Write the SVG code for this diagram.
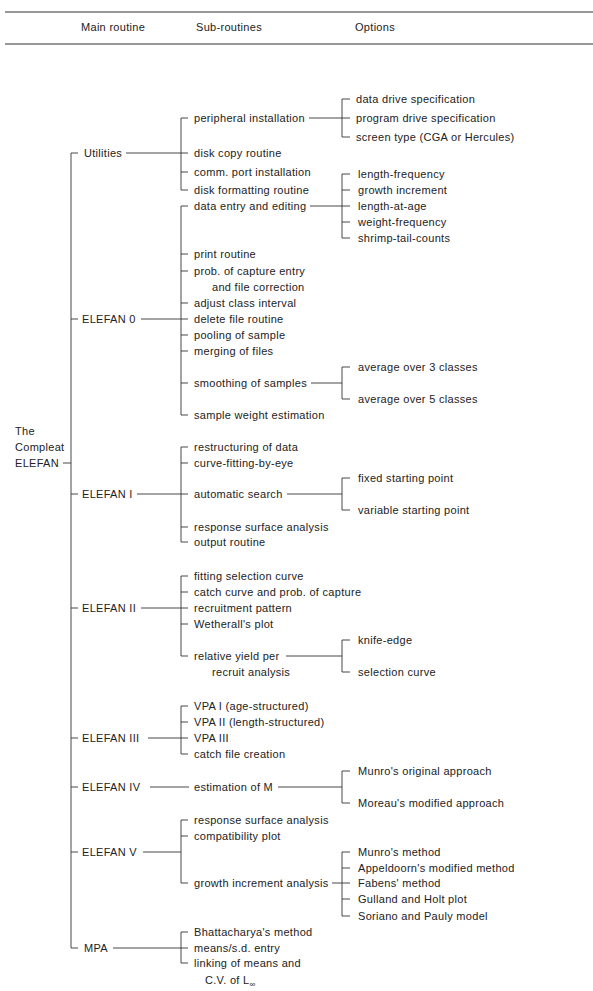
<svg xmlns="http://www.w3.org/2000/svg" width="593" height="991" viewBox="0 0 593 991">
<style>
text{font-family:"Liberation Sans",Arial,sans-serif;font-size:11px;letter-spacing:0.3px;fill:#222}
.c{fill:none;stroke:#333;stroke-width:0.9}
.rule{stroke:#333;fill:none}
</style>
<rect width="593" height="991" fill="#fff"/>
<g id="header">
<line class="rule" x1="5" y1="12" x2="593" y2="12" stroke-width="1.2"/>
<line class="rule" x1="5" y1="44" x2="593" y2="44" stroke-width="1"/>
<text x="81" y="31">Main routine</text>
<text x="196" y="31">Sub-routines</text>
<text x="355" y="31">Options</text>
</g>
<g id="connectors">
<path class="c" d="M78,153 H71 V948 H78 M71,319 H78 M71,494 H78 M71,608 H78 M71,738 H78 M71,787 H78 M71,852 H78 M63,463 H71"/>
<path class="c" d="M126,153 H181 M141,319 H181 M137,494 H181 M141,608 H181 M148,738 H181 M150,787 H189 M143,852 H181 M113,948 H181"/>
<path class="c" d="M188,118 H181 V190 H188 M181,153 H188 M181,172 H188"/>
<path class="c" d="M309,118 H342 M350,99 H342 V137 H350 M342,118 H350"/>
<path class="c" d="M188,206 H181 V415 H188 M181,254 H188 M181,271 H188 M181,303 H188 M181,319 H188 M181,335 H188 M181,351 H188 M181,383 H188"/>
<path class="c" d="M310,206 H342 M350,174 H342 V238 H350 M342,190 H350 M342,206 H350 M342,222 H350"/>
<path class="c" d="M311,383 H342 M350,367 H342 V399 H350"/>
<path class="c" d="M188,447 H181 V542 H188 M181,463 H188 M181,494 H188 M181,527 H188"/>
<path class="c" d="M287,494 H342 M350,478 H342 V510 H350"/>
<path class="c" d="M188,576 H181 V656 H188 M181,592 H188 M181,608 H188 M181,624 H188"/>
<path class="c" d="M286,656 H342 M350,640 H342 V672 H350"/>
<path class="c" d="M188,706 H181 V754 H188 M181,722 H188 M181,738 H188"/>
<path class="c" d="M278,787 H342 M350,771 H342 V803 H350"/>
<path class="c" d="M188,820 H181 V883 H188 M181,836 H188"/>
<path class="c" d="M332,883 H342 M350,852 H342 V916 H350 M342,868 H350 M342,883 H350 M342,899 H350"/>
<path class="c" d="M188,932 H181 V963 H188 M181,948 H188"/>
</g>
<g id="root">
<text x="15" y="435">The</text>
<text x="15" y="451">Compleat</text>
<text x="15" y="467">ELEFAN</text>
</g>
<g id="utilities">
<text x="84" y="157">Utilities</text>
<text x="194" y="122">peripheral installation</text>
<text x="194" y="157">disk copy routine</text>
<text x="194" y="176">comm. port installation</text>
<text x="194" y="194">disk formatting routine</text>
<text x="356" y="103">data drive specification</text>
<text x="356" y="122">program drive specification</text>
<text x="356" y="141">screen type (CGA or Hercules)</text>
</g>
<g id="elefan0">
<text x="82" y="323">ELEFAN 0</text>
<text x="194" y="210">data entry and editing</text>
<text x="194" y="258">print routine</text>
<text x="194" y="275">prob. of capture entry</text>
<text x="212" y="291">and file correction</text>
<text x="194" y="307">adjust class interval</text>
<text x="194" y="323">delete file routine</text>
<text x="194" y="339">pooling of sample</text>
<text x="194" y="355">merging of files</text>
<text x="194" y="387">smoothing of samples</text>
<text x="194" y="419">sample weight estimation</text>
<text x="358" y="178">length-frequency</text>
<text x="358" y="194">growth increment</text>
<text x="358" y="210">length-at-age</text>
<text x="358" y="226">weight-frequency</text>
<text x="358" y="242">shrimp-tail-counts</text>
<text x="358" y="371">average over 3 classes</text>
<text x="358" y="403">average over 5 classes</text>
</g>
<g id="elefan1">
<text x="82" y="498">ELEFAN I</text>
<text x="194" y="451">restructuring of data</text>
<text x="194" y="467">curve-fitting-by-eye</text>
<text x="194" y="498">automatic search</text>
<text x="194" y="531">response surface analysis</text>
<text x="194" y="546">output routine</text>
<text x="358" y="482">fixed starting point</text>
<text x="358" y="514">variable starting point</text>
</g>
<g id="elefan2">
<text x="82" y="612">ELEFAN II</text>
<text x="194" y="580">fitting selection curve</text>
<text x="194" y="596">catch curve and prob. of capture</text>
<text x="194" y="612">recruitment pattern</text>
<text x="194" y="628">Wetherall's plot</text>
<text x="194" y="660">relative yield per</text>
<text x="212" y="676">recruit analysis</text>
<text x="358" y="644">knife-edge</text>
<text x="358" y="676">selection curve</text>
</g>
<g id="elefan3">
<text x="82" y="742">ELEFAN III</text>
<text x="194" y="710">VPA I (age-structured)</text>
<text x="194" y="726">VPA II (length-structured)</text>
<text x="194" y="742">VPA III</text>
<text x="194" y="758">catch file creation</text>
</g>
<g id="elefan4">
<text x="82" y="791">ELEFAN IV</text>
<text x="194" y="791">estimation of M</text>
<text x="358" y="775">Munro's original approach</text>
<text x="358" y="807">Moreau's modified approach</text>
</g>
<g id="elefan5">
<text x="82" y="856">ELEFAN V</text>
<text x="194" y="824">response surface analysis</text>
<text x="194" y="840">compatibility plot</text>
<text x="194" y="887">growth increment analysis</text>
<text x="358" y="856">Munro's method</text>
<text x="358" y="872">Appeldoorn's modified method</text>
<text x="358" y="887">Fabens' method</text>
<text x="358" y="903">Gulland and Holt plot</text>
<text x="358" y="920">Soriano and Pauly model</text>
</g>
<g id="mpa">
<text x="84" y="952">MPA</text>
<text x="194" y="936">Bhattacharya's method</text>
<text x="194" y="952">means/s.d. entry</text>
<text x="194" y="967">linking of means and</text>
<text x="205" y="984">C.V. of L<tspan font-size="8" dy="3">∞</tspan></text>
</g>
</svg>
